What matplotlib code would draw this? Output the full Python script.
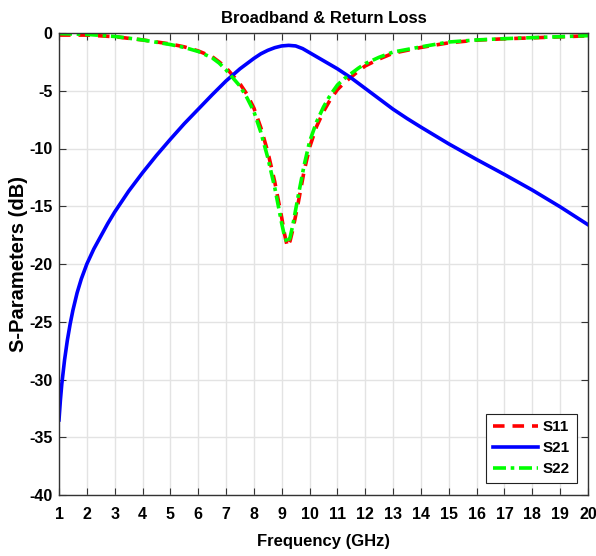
import matplotlib
matplotlib.use("Agg")
import matplotlib.pyplot as plt

plt.rcParams["font.family"] = ["Liberation Sans", "DejaVu Sans"]
plt.rcParams["font.weight"] = "bold"
plt.rcParams["axes.unicode_minus"] = False

# ---- data ----
freq_s21 = [1, 1.05, 1.1, 1.2, 1.3, 1.4, 1.5, 1.65, 1.8, 2, 2.25, 2.5, 2.75, 3,
            3.5, 4, 4.5, 5, 5.5, 6, 6.5, 7, 7.5, 8, 8.25, 8.5, 8.75, 9, 9.25,
            9.5, 9.75, 10, 10.5, 11, 11.5, 12, 12.5, 13, 13.5, 14, 15, 16, 17,
            18, 19, 20]
s21 = [-33.5, -31.8, -30.4, -28.3, -26.6, -25.2, -24.0, -22.5, -21.3, -20.0,
       -18.7, -17.6, -16.5, -15.5, -13.7, -12.1, -10.6, -9.2, -7.85, -6.6,
       -5.35, -4.15, -3.1, -2.2, -1.8, -1.5, -1.27, -1.12, -1.07, -1.12, -1.35,
       -1.7, -2.4, -3.1, -3.9, -4.8, -5.7, -6.6, -7.4, -8.15, -9.6, -10.95,
       -12.25, -13.6, -15.05, -16.6]

freq_refl = [1, 2, 3, 4, 5, 5.5, 6, 6.5, 6.75, 7, 7.25, 7.5, 7.75, 8, 8.25, 8.5,
             8.75, 9.0, 9.1, 9.2, 9.3, 9.4, 9.6, 9.8, 10, 10.25, 10.5, 10.75, 11,
             11.25, 11.5, 11.75, 12, 12.5, 13, 14, 15, 16, 17, 18, 19, 20]
s11 = [-0.18, -0.18, -0.32, -0.6, -0.95, -1.2, -1.55, -2.05, -2.5, -3.0, -3.7,
       -4.4, -5.3, -6.5, -8.2, -10.3, -12.9, -16.0, -17.4, -18.5, -18.0, -17.0,
       -14.6, -12.0, -9.9, -8.1, -6.8, -5.75, -4.9, -4.3, -3.8, -3.3, -2.85,
       -2.25, -1.75, -1.25, -0.85, -0.62, -0.5, -0.42, -0.33, -0.25]
s22 = [-0.05, -0.12, -0.3, -0.6, -1.0, -1.25, -1.6, -2.15, -2.6, -3.2, -3.9,
       -4.6, -5.6, -6.8, -8.6, -10.8, -13.4, -16.5, -17.6, -18.2, -17.7, -16.6,
       -14.0, -11.5, -9.4, -7.7, -6.4, -5.35, -4.5, -3.95, -3.5, -3.05, -2.65,
       -2.1, -1.65, -1.2, -0.78, -0.6, -0.49, -0.4, -0.32, -0.23]

xticks = list(range(1, 21))
yticks = list(range(-40, 1, 5))

fig = plt.figure(figsize=(5.96, 5.56), dpi=100)
ax = fig.add_axes([59 / 596, 1 - 495 / 556, (588 - 59) / 596, (495 - 33) / 556])

ax.plot(freq_refl, s11, color=(1, 0, 0), lw=2.6, ls=(0, (3.2, 2.2)), label="S11")
ax.plot(freq_s21, s21, color=(0, 0, 1), lw=2.6, ls="-", label="S21")
ax.plot(freq_refl, s22, color=(0, 1, 0), lw=2.6, ls=(0, (3.6, 1.3, 1, 1.3)), label="S22")

ax.set_xlim(1, 20)
ax.set_ylim(-40, 0)
ax.set_xticks(xticks)
ax.set_yticks(yticks)
ax.grid(True, color="#e3e3e3", lw=1.0)
ax.set_axisbelow(True)
ax.tick_params(direction="in", top=True, right=True, length=5, width=0.8,
               labelsize=11.5, color="#333333")
ax.tick_params(axis="x", pad=8.5)
ax.tick_params(axis="y", pad=4.5)
for lab in ax.get_xticklabels() + ax.get_yticklabels():
    lab.set_fontweight("bold")
for sp in ax.spines.values():
    sp.set_color("#333333")
    sp.set_linewidth(1.0)

ax.set_title("Broadband & Return Loss", fontsize=12, fontweight="bold", pad=7.5)
ax.set_xlabel("Frequency (GHz)", fontsize=12, fontweight="bold", labelpad=9)
ax.set_ylabel("S-Parameters (dB)", fontsize=14.5, fontweight="bold", labelpad=1)

leg = ax.legend(loc="lower right", bbox_to_anchor=(1 - 11 / 529, 12 / 462),
                prop={"weight": "bold", "size": 11}, fancybox=False,
                framealpha=1, edgecolor="#222222", borderpad=0.45,
                handlelength=3.0, handletextpad=0.3, labelspacing=0.45,
                borderaxespad=0)
leg.get_frame().set_linewidth(0.8)

fig.savefig("out.png", dpi=100)
